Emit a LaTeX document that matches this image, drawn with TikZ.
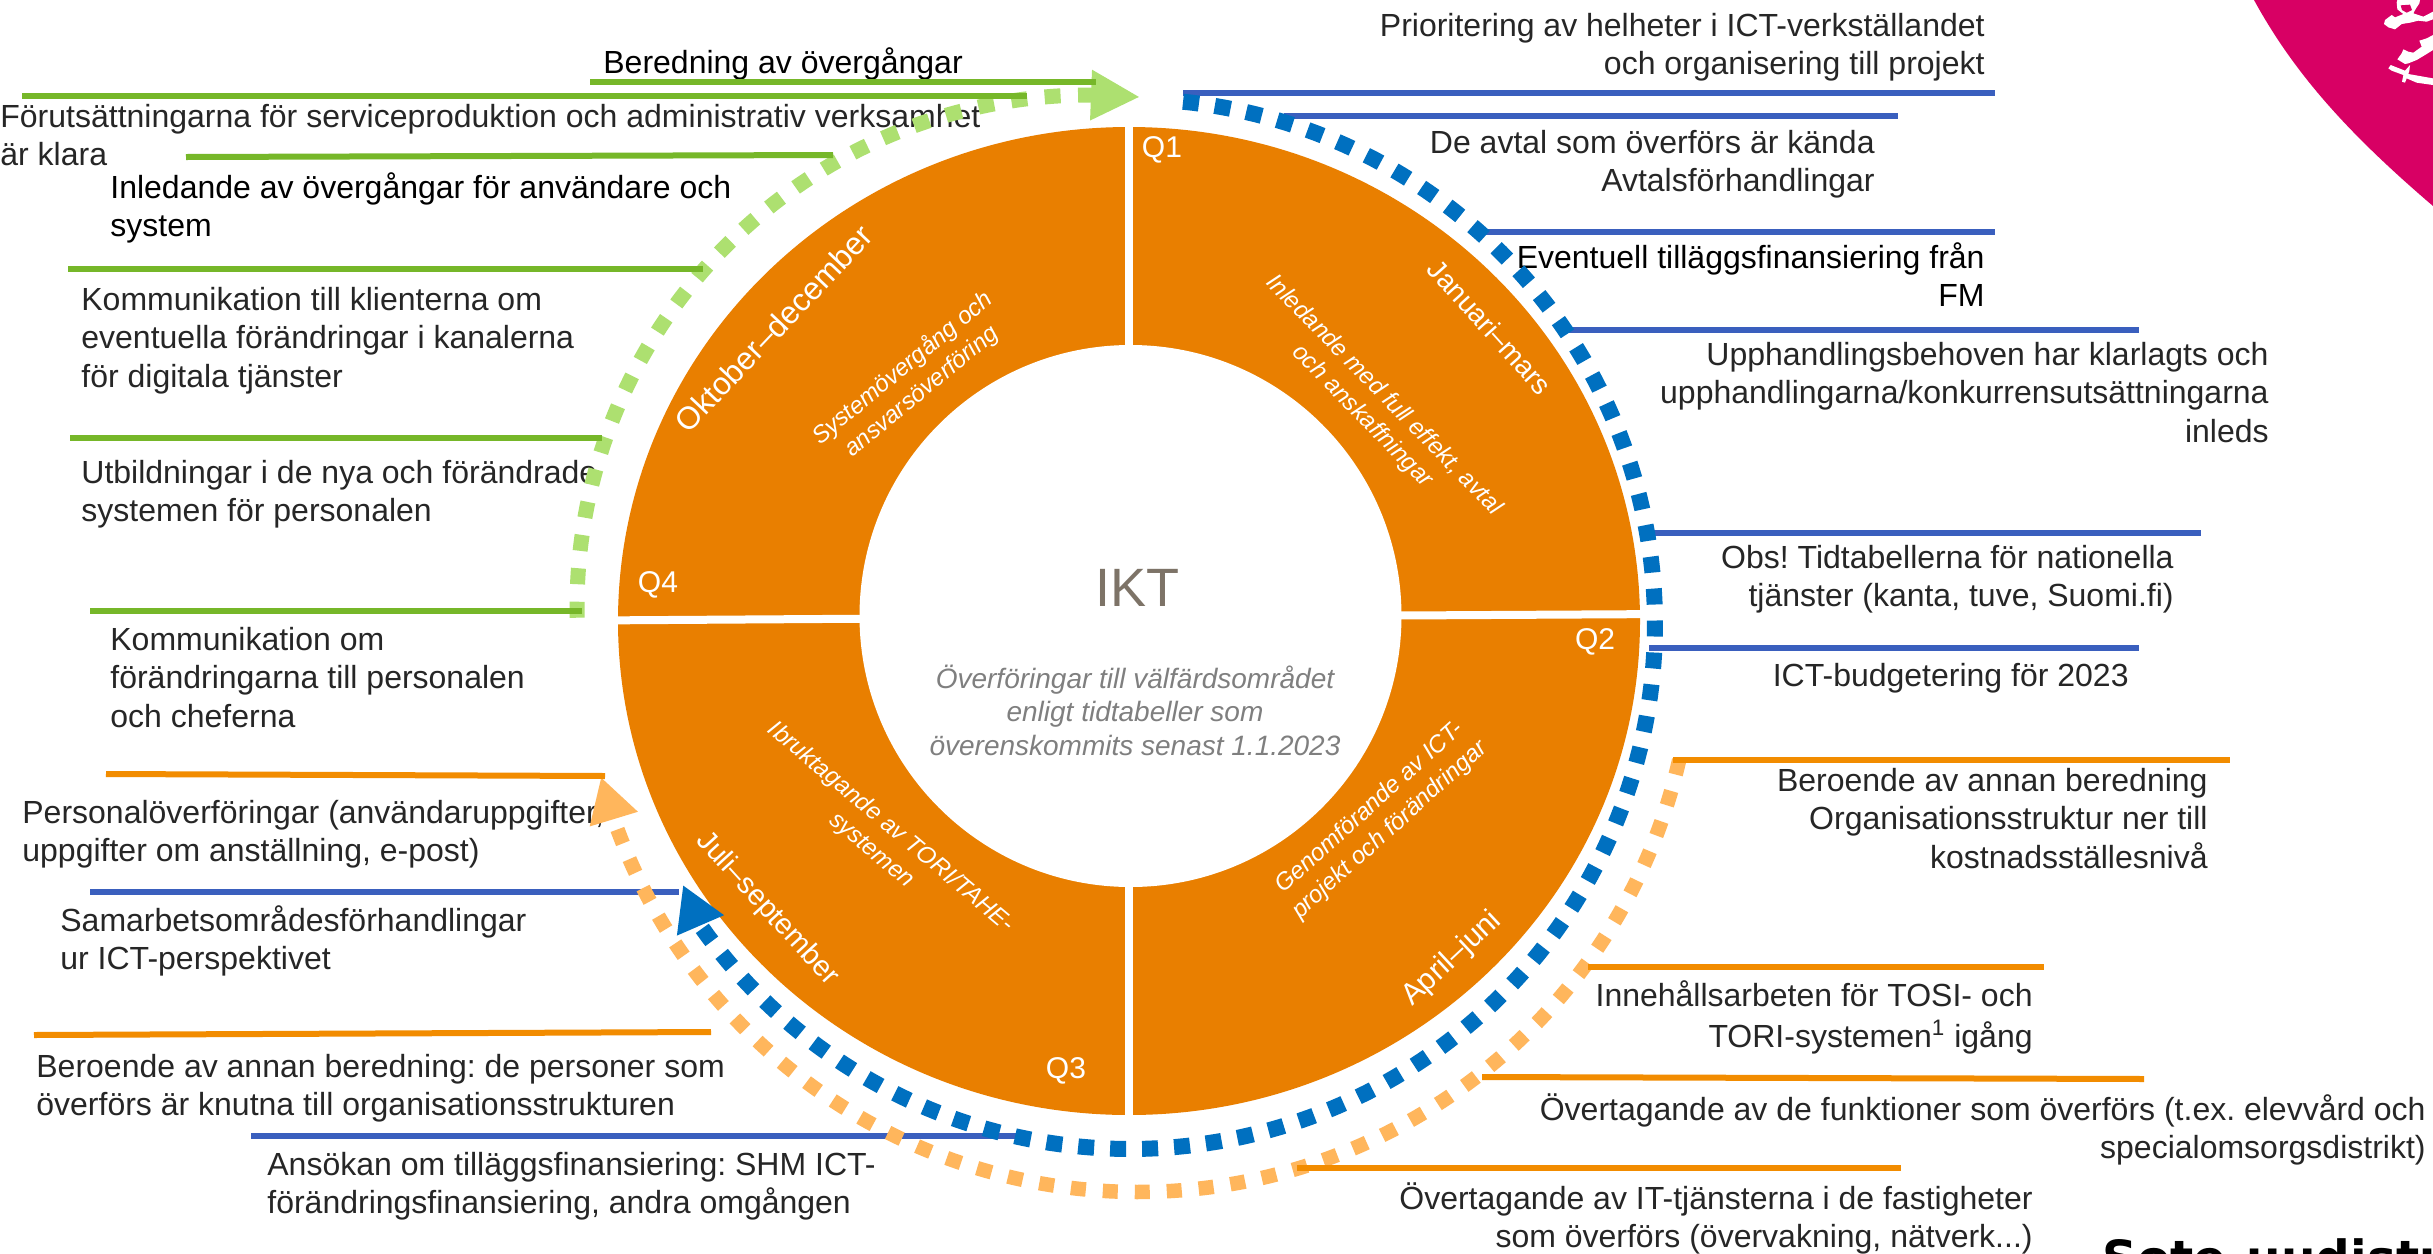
\documentclass[tikz,border=0pt]{standalone}
\usepackage{fontspec}
\setmainfont{Liberation Sans}
\newfontfamily\sotefont{DejaVu Sans}
\usetikzlibrary{arrows.meta}
\definecolor{ringor}{HTML}{E97F00}
\definecolor{lorange}{HTML}{FFB65C}
\definecolor{lgreen}{HTML}{ADE070}
\definecolor{arcblue}{HTML}{0070C0}
\definecolor{lineblue}{HTML}{3A5FBE}
\definecolor{linegreen}{HTML}{76B729}
\definecolor{lineor}{HTML}{F28C00}
\definecolor{magent}{HTML}{D80064}
\definecolor{txt}{HTML}{262626}
\definecolor{ikt}{HTML}{7D7367}
\definecolor{grey}{HTML}{7F7F7F}
\frenchspacing
\tikzset{
  lbl/.style={inner sep=0pt,text=txt,font=\fontsize{16}{19.25}\selectfont},
  lblk/.style={lbl,text=black},
  tl/.style={lbl,align=left,anchor=north west},
  tr/.style={lbl,align=right,anchor=north east},
  tlk/.style={lblk,align=left,anchor=north west},
  trk/.style={lblk,align=right,anchor=north east},
  qlab/.style={inner sep=0pt,text=white,font=\fontsize{15}{18}\selectfont},
  monthlab/.style={inner sep=0pt,text=white},
  seglab/.style={inner sep=0pt,text=white,font=\fontsize{12}{15}\itshape\selectfont,align=center},
  bleader/.style={draw=lineblue,line width=3pt},
  gleader/.style={draw=linegreen,line width=3pt},
  oleader/.style={draw=lineor,line width=3pt},
}
\begin{document}
\begin{tikzpicture}[x=0.5pt,y=-0.5pt]
\clip (0,0) rectangle (2433,1254);
\fill[white] (0,0) rectangle (2433,1254);
% magenta corner
\fill[magent] (2254,0) .. controls (2295,75) and (2350,135) .. (2433,206) -- (2433,0) -- cycle;
\begin{scope}[shift={(2360,0)},x=0.1667pt,y=-0.1667pt]
\fill[white] (75,60) -- (95,45) -- (105,52) -- (130,42) -- (112,28) -- (110,8) -- (112,0) -- (180,0) -- (178,10) -- (168,25) -- (160,40) -- (190,50) -- (219,35) -- (219,58) -- (200,65) -- (175,62) -- (150,68) -- (125,72) -- (105,88) -- (85,82) -- (72,72) -- cycle;
\fill[magent] (122,16) -- (150,14) -- (156,30) -- (140,38) -- (126,30) -- cycle;
\fill[white] (178,122) -- (200,115) -- (219,105) -- (219,150) -- (195,165) -- (170,180) -- (145,190) -- (135,192) -- (112,178) -- (125,160) -- (130,148) -- (145,155) -- (160,158) -- (185,140) -- cycle;
\fill[white] (85,205) -- (92,195) -- (135,212) -- (150,195) -- (148,212) -- (145,222) -- (219,235) -- (219,255) -- (170,248) -- (140,235) -- (135,248) -- (126,245) -- (130,225) -- (95,212) -- cycle;
\end{scope}
% ring
\fill[ringor] (1129,621) ellipse [x radius=511,y radius=494];
\fill[white] (1130.5,616) ellipse [x radius=271,y radius=271];
\draw[white,line width=4pt] (1129,100) -- (1129,1140);
\draw[white,line width=4pt] (590,620.5) -- (1129,617) -- (1670,614);
% centre
\node[inner sep=0pt,text=ikt,font=\fontsize{27}{32}\selectfont] (ikt) at (1137,588) {IKT};
\node[inner sep=0pt,anchor=north,align=center,text=grey,font=\fontsize{14}{16.75}\itshape\selectfont] (sub) at (1135,664.5) {\strut Överföringar till välfärdsområdet\\enligt tidtabeller som\\överenskommits senast 1.1.2023};
% quarters
\node[qlab] (q1) at (1162,150) {Q1};
\node[qlab] (q2) at (1595,642) {Q2};
\node[qlab] (q3) at (1066,1071) {Q3};
\node[qlab] (q4) at (658,585) {Q4};
\node[monthlab,font=\fontsize{14}{17}\selectfont,rotate=-48] (jan) at (1490,327) {Januari–mars};
\node[monthlab,font=\fontsize{15}{18}\selectfont,rotate=43] (apr) at (1452,959) {April–juni};
\node[monthlab,font=\fontsize{14.5}{17}\selectfont,rotate=-47.7] (jul) at (767,909) {Juli–september};
\node[monthlab,font=\fontsize{15.8}{18}\selectfont,rotate=46.6] (okt) at (773.5,328.5) {Oktober–december};
\node[seglab,rotate=-45.5] (s1) at (1373,406) {Inledande med full effekt, avtal\\och anskaffningar};
\node[seglab,rotate=42] (s2) at (1380,819) {Genomförande av ICT-\\projekt och förändringar};
\node[seglab,rotate=-40] (s3) at (881,839) {Ibruktagande av TORI/TAHE-\\systemen};
\node[seglab,rotate=39.6] (s4) at (912,380) {Systemövergång och\\ansvarsöverföring};
% texts right
\node[tr] (r1) at (1985,9) {\strut Prioritering av helheter i ICT-verkställandet\\och organisering till projekt};
\node[tr] (r2) at (1875,126) {\strut De avtal som överförs är kända\\Avtalsförhandlingar};
\node[trk] (r3) at (1985,241) {\strut Eventuell tilläggsfinansiering från\\FM};
\node[tr] (r4) at (2269,338) {\strut Upphandlingsbehoven har klarlagts och\\upphandlingarna/konkurrensutsättningarna\\inleds};
\node[tr] (r5) at (2174,541) {\strut Obs! Tidtabellerna för nationella\\tjänster (kanta, tuve, Suomi.fi)};
\node[tr] (r6) at (2129,659) {\strut ICT-budgetering för 2023};
\node[tr] (r7) at (2208,764) {\strut Beroende av annan beredning\\Organisationsstruktur ner till\\kostnadsställesnivå};
\node[tr] (r8) at (2033,979) {\strut Innehållsarbeten för TOSI- och\\TORI-systemen\textsuperscript{1} igång};
\node[tr] (r9) at (2426,1093) {\strut Övertagande av de funktioner som överförs (t.ex. elevvård och\\specialomsorgsdistrikt)};
\node[tr] (r10) at (2033,1182) {\strut Övertagande av IT-tjänsterna i de fastigheter\\som överförs (övervakning, nätverk...)};
% texts left
\node[tlk] (l1) at (603,46) {\strut Beredning av övergångar};
\node[tl] (l2) at (0,100) {\strut Förutsättningarna för serviceproduktion och administrativ verksamhet\\är klara};
\node[tlk] (l3) at (110,171) {\strut Inledande av övergångar för användare och\\system};
\node[tl] (l4) at (81,283) {\strut Kommunikation till klienterna om\\eventuella förändringar i kanalerna\\för digitala tjänster};
\node[tl] (l5) at (81,456) {\strut Utbildningar i de nya och förändrade\\systemen för personalen};
\node[tl] (l6) at (110,623) {\strut Kommunikation om\\förändringarna till personalen\\och cheferna};
\node[tl] (l7) at (22,796) {\strut Personalöverföringar (användaruppgifter,\\uppgifter om anställning, e-post)};
\node[tl] (l8) at (60,904) {\strut Samarbetsområdesförhandlingar\\ur ICT-perspektivet};
\node[tl] (l9) at (36,1050) {\strut Beroende av annan beredning: de personer som\\överförs är knutna till organisationsstrukturen};
\node[tl] (l10) at (267,1148) {\strut Ansökan om tilläggsfinansiering: SHM ICT-\\förändringsfinansiering, andra omgången};
% blue leaders
\draw[bleader] (1183,93) -- (1995,93);
\draw[bleader] (1284,116) -- (1898,116);
\draw[bleader] (1482,232) -- (1995,232);
\draw[bleader] (1564,330) -- (2139,330);
\draw[bleader] (1653,533) -- (2201,533);
\draw[bleader] (1649,648) -- (2139,648);
\draw[bleader] (90,892) -- (679,892);
\draw[bleader] (251,1136) -- (1021,1136);
% arcs
\draw[line width=8pt,draw=arcblue,dash pattern=on 8pt off 8pt,arrows={-{Triangle[length=22pt,width=24pt,fill=arcblue]}}]
  plot[domain=-84.2:144.8,samples=200] ({1130+525*cos(\x)},{624+525*sin(\x)}) -- (683,885);
\draw[line width=7.25pt,draw=lorange,dash pattern=on 7.5pt off 8.5pt,arrows={-{Triangle[length=22pt,width=23.5pt,fill=lorange]}}]
  plot[domain=12.8:160.7,samples=200] ({1138+555*cos(\x)},{637+555*sin(\x)}) -- (601,777);
\draw[line width=7.5pt,draw=lgreen,dash pattern=on 8pt off 8.75pt,arrows={-{Triangle[length=24.5pt,width=23.5pt,fill=lgreen]}}]
  plot[domain=178.8:270,samples=200] ({1089+512*cos(\x)},{607+512*sin(\x)}) -- (1140,97);
% green leaders
\draw[gleader] (590,82) -- (1096,82);
\draw[gleader] (22,96) -- (1027,96);
\draw[gleader] (186,157) -- (833,155);
\draw[gleader] (68,269) -- (703,269);
\draw[gleader] (70,438) -- (602,438);
\draw[gleader] (90,611) -- (582,611);
% orange leaders
\draw[oleader] (1673,760) -- (2230,760);
\draw[oleader] (1588,967) -- (2044,967);
\draw[oleader] (1482,1077) -- (2144,1079);
\draw[oleader] (1297,1168) -- (1901,1168);
\draw[oleader] (106,774) -- (605,776);
\draw[oleader] (34,1035) -- (711,1032);
% bottom title
\node[inner sep=0pt,anchor=base west,font=\fontsize{24.25}{30}\sotefont\bfseries\selectfont] (sote) at (2102,1275) {Sote-uudistus};
\end{tikzpicture}
\end{document}
